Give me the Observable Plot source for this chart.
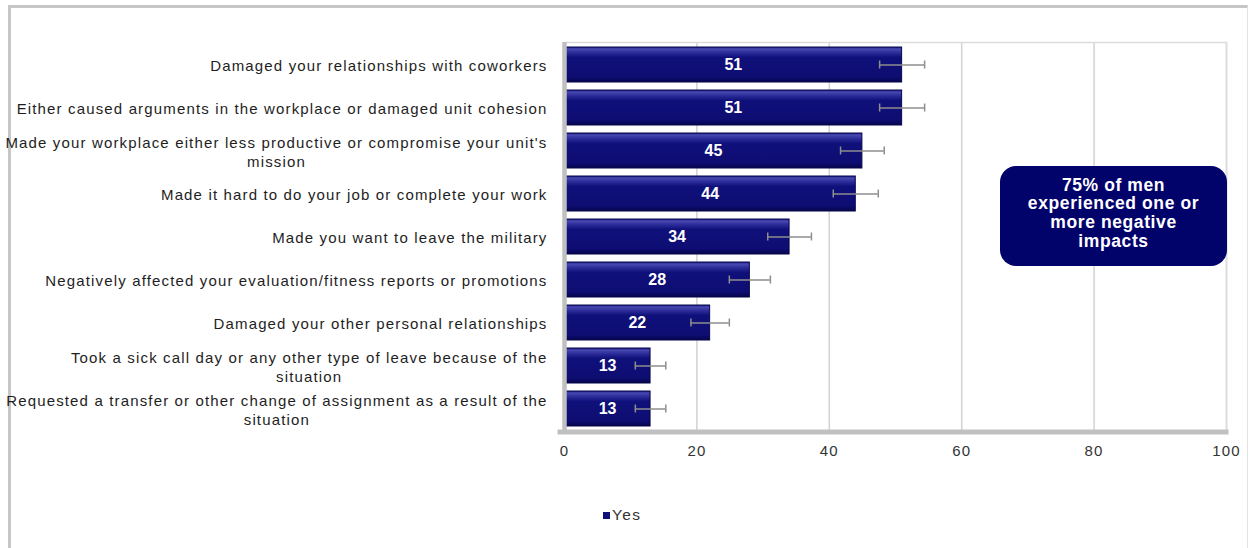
<!DOCTYPE html>
<html>
<head>
<meta charset="utf-8">
<script src="https://cdn.jsdelivr.net/npm/d3@7"></script>
<script src="https://cdn.jsdelivr.net/npm/@observablehq/plot@0.6"></script>
<style>
  body { margin: 0; background: #fff; }
  #wrap { position: relative; width: 1250px; height: 548px; overflow: hidden; font-family: "Liberation Sans", Arial, sans-serif; }
  #border { position: absolute; left: 8px; top: 5px; width: 1236px; height: 600px; border-left: 3px solid #c6c6c6; border-top: 3px solid #c6c6c6; border-right: 1px solid #e4e4e4; }
  #chart { position: absolute; left: 0; top: 0; }
  #chart g[aria-label="text"] { letter-spacing: 0; }
  #note { position: absolute; left: 1000px; top: 166px; width: 227px; height: 100px; border-radius: 16px; background: #02026b; color: #fff;
          display: flex; align-items: center; justify-content: center; text-align: center; font-weight: bold; font-size: 17.5px;
          letter-spacing: 0.6px; line-height: 18.7px; box-sizing: border-box; padding-bottom: 6px; }
  #legend { position: absolute; left: 603px; top: 506px; font-size: 15.5px; letter-spacing: 1.4px; color: #333; display: flex; align-items: center; }
  #legend .sw { display: inline-block; width: 7px; height: 7px; background: #10107a; margin-right: 2px; }
</style>
</head>
<body>
<div id="wrap">
  <div id="border"></div>
  <div id="chart"></div>
  <div id="note"></div>
  <div id="legend"></div>
</div>
<script>
const categories = [
  "Damaged your relationships with coworkers",
  "Either caused arguments in the workplace or damaged unit cohesion",
  "Made your workplace either less productive or compromise your unit's\nmission",
  "Made it hard to do your job or complete your work",
  "Made you want to leave the military",
  "Negatively affected your evaluation/fitness reports or promotions",
  "Damaged your other personal relationships",
  "Took a sick call day or any other type of leave because of the\nsituation",
  "Requested a transfer or other change of assignment as a result of the\nsituation"
];
const values = [51, 51, 45, 44, 34, 28, 22, 13, 13];
const margins = [3.4, 3.4, 3.3, 3.4, 3.3, 3.1, 2.9, 2.3, 2.3];
const xTicks = [0, 20, 40, 60, 80, 100];
const seriesName = "Yes";
const noteLines = ["75% of men", "experienced one or", "more negative", "impacts"];

const data = categories.map((c, i) => ({
  label: c, value: values[i], lo: values[i] - margins[i], hi: values[i] + margins[i]
}));

const defs = () => {
  const ns = "http://www.w3.org/2000/svg";
  const d = document.createElementNS(ns, "defs");
  d.innerHTML = `<linearGradient id="barGrad" x1="0" y1="0" x2="0" y2="1">
      <stop offset="0" stop-color="#1c1c86"/>
      <stop offset="0.06" stop-color="#4848b0"/>
      <stop offset="0.17" stop-color="#2a2a98"/>
      <stop offset="0.3" stop-color="#10107b"/>
      <stop offset="0.86" stop-color="#0d0d72"/>
      <stop offset="1" stop-color="#05054a"/>
    </linearGradient>`;
  return d;
};

const errColor = "#8e8e8e";
const axisGray = "#c0c0c0";

const plot = Plot.plot({
  width: 1250,
  height: 470,
  marginLeft: 564,
  marginRight: 24,
  marginTop: 42,
  marginBottom: 39,
  style: { fontFamily: "'Liberation Sans', Arial, sans-serif", fontSize: "15px", color: "#1e1e1e", letterSpacing: "1.15px", background: "transparent", overflow: "visible" },
  x: { domain: [0, 100], ticks: xTicks },
  y: { domain: categories, paddingInner: 0.19, paddingOuter: 0.09, label: null },
  marks: [
    defs,
    Plot.gridX(xTicks, { stroke: "#d2d2d2", strokeWidth: 1.5, strokeOpacity: 1 }),
    Plot.frame({ stroke: "#dcdcdc", strokeWidth: 1.5 }),
    Plot.barX(data, { x: "value", y: "label", fill: "url(#barGrad)", stroke: "#06064a", strokeWidth: 1 }),
    Plot.ruleY(data, { y: "label", x1: "lo", x2: "hi", stroke: errColor, strokeWidth: 1.5 }),
    Plot.tickX(data, { x: "lo", y: "label", stroke: errColor, strokeWidth: 1.5, insetTop: 13.5, insetBottom: 13.5 }),
    Plot.tickX(data, { x: "hi", y: "label", stroke: errColor, strokeWidth: 1.5, insetTop: 13.5, insetBottom: 13.5 }),
    Plot.text(data, { x: d => d.value / 2, y: "label", text: d => String(d.value), fill: "white", fontWeight: "bold", fontSize: 16 }),
    Plot.ruleX([0], { stroke: axisGray, strokeWidth: 4.5, insetBottom: -3 }),
    Plot.frame({ fill: axisGray, stroke: null, insetTop: 387, insetBottom: -3, insetLeft: -7, insetRight: -2 }),
    Plot.axisX({ ticks: xTicks, tickSize: 0, tickPadding: 14, label: null, fill: "#333" }),
    Plot.axisY({ tickSize: 0, tickPadding: 17, label: null, lineHeight: 1.3, fill: "#1e1e1e" })
  ]
});

document.getElementById("chart").append(plot);

// center wrapped second lines under the first (Excel-style wrapped category labels)
plot.querySelectorAll('g[aria-label="y-axis tick label"] text').forEach(t => {
  const spans = t.querySelectorAll("tspan");
  if (spans.length < 2) return;
  const W = Math.max(...[...spans].map(s => s.getComputedTextLength()));
  t.setAttribute("text-anchor", "middle");
  spans.forEach(s => s.setAttribute("x", -W / 2));
});

document.getElementById("note").innerHTML = noteLines.join("<br>");
document.getElementById("legend").innerHTML = `<span class="sw"></span><span>${seriesName}</span>`;
</script>
</body>
</html>
